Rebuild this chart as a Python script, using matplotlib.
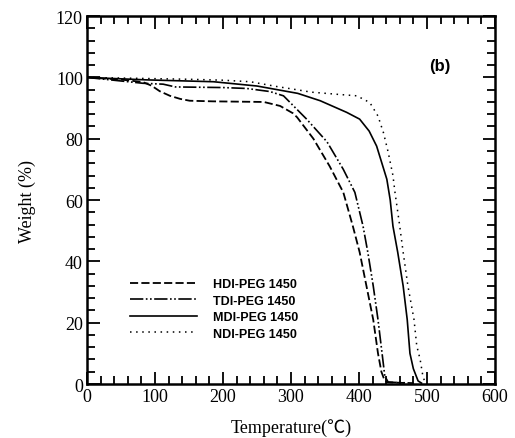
import matplotlib
matplotlib.use('Agg')
import matplotlib.pyplot as plt
from matplotlib.ticker import MultipleLocator

# TGA curves (temperature in C, weight in %)
hdi_t = [0, 50, 82, 95, 107, 122, 137, 151, 185, 260, 284, 303, 309, 333, 357, 377, 391,
         401, 411, 421, 428, 433, 437, 441, 470]
hdi_w = [100, 99.3, 98.5, 97.3, 95.5, 94, 93, 92.4, 92.2, 92, 90.7, 88.3, 87, 80, 71, 62.5, 51.5,
         43, 32, 21, 10, 4, 1.6, 0.6, 0.3]

tdi_t = [0, 82, 112, 130, 200, 235, 269, 289, 323, 353, 377, 394, 406, 413, 421, 428, 434,
         438, 443, 480]
tdi_w = [100, 98.1, 97.8, 96.9, 96.7, 96.4, 95.4, 94, 86.4, 79, 70, 62.5, 51.5, 43, 32, 21, 10,
         2.6, 0.6, 0.3]

mdi_t = [0, 88, 186, 250, 280, 310, 343, 382, 401, 415, 426, 441, 446, 450, 457, 465, 471,
         475, 480, 487, 492]
mdi_w = [100, 99.2, 98.6, 97.2, 96, 94.8, 92.4, 88.6, 86.4, 82.5, 77.6, 66.8, 60, 51.5, 43, 32, 21,
         10, 5, 1, 0.3]

ndi_t = [0, 100, 150, 200, 240, 280, 300, 330, 368, 397, 416, 428, 436, 443, 450, 453, 460,
         465, 472, 481, 485, 490, 494, 498]
ndi_w = [100, 99.6, 99.4, 99.1, 98.6, 97, 96.3, 95.2, 94.5, 94, 91.8, 87.4, 82, 75.6, 68, 62.5, 51.5,
         43, 32, 21, 12.5, 8, 2.6, 0]

labels = ['HDI-PEG 1450', 'TDI-PEG 1450', 'MDI-PEG 1450', 'NDI-PEG 1450']

serif = ['Liberation Serif', 'Noto Sans CJK SC', 'DejaVu Serif']

fig = plt.figure(figsize=(5.15, 4.39), dpi=100)
ax = fig.add_axes([0.169, 0.123, 0.792, 0.838])

ax.plot(hdi_t, hdi_w, color='black', lw=1.3, linestyle=(0, (4.5, 1.8)), label=labels[0])
ax.plot(tdi_t, tdi_w, color='black', lw=1.2, linestyle=(0, (8, 1.5, 1, 1.5, 1, 1.5)), label=labels[1])
ax.plot(mdi_t, mdi_w, color='black', lw=1.2, linestyle='-', label=labels[2])
ax.plot(ndi_t, ndi_w, color='black', lw=1.1, linestyle=(0, (1, 3)), label=labels[3])

ax.set_xlim(0, 600)
ax.set_ylim(0, 120)
ax.xaxis.set_major_locator(MultipleLocator(100))
ax.xaxis.set_minor_locator(MultipleLocator(20))
ax.yaxis.set_major_locator(MultipleLocator(20))
ax.yaxis.set_minor_locator(MultipleLocator(4))
ax.tick_params(which='both', direction='in', top=True, right=True, width=1.3, pad=3)
ax.tick_params(which='major', length=9)
ax.tick_params(which='minor', length=6)
for s in ax.spines.values():
    s.set_linewidth(1.8)
for lab in ax.get_xticklabels() + ax.get_yticklabels():
    lab.set_fontfamily(serif)
    lab.set_fontsize(13)

ax.set_xlabel('Temperature(℃)', fontsize=13, family=serif, labelpad=9)
ax.set_ylabel('Weight (%)', fontsize=13, family=serif, labelpad=14)

ax.text(519, 104, '(b)', fontsize=12, fontweight='bold', family='Liberation Sans',
        ha='center', va='center')

ax.legend(loc='upper left', bbox_to_anchor=(0.077, 0.318), frameon=False,
          prop={'family': 'Liberation Sans', 'weight': 'bold', 'size': 9},
          handlelength=5.4, handletextpad=1.3, labelspacing=0.36)

fig.savefig('out.png', dpi=100)
